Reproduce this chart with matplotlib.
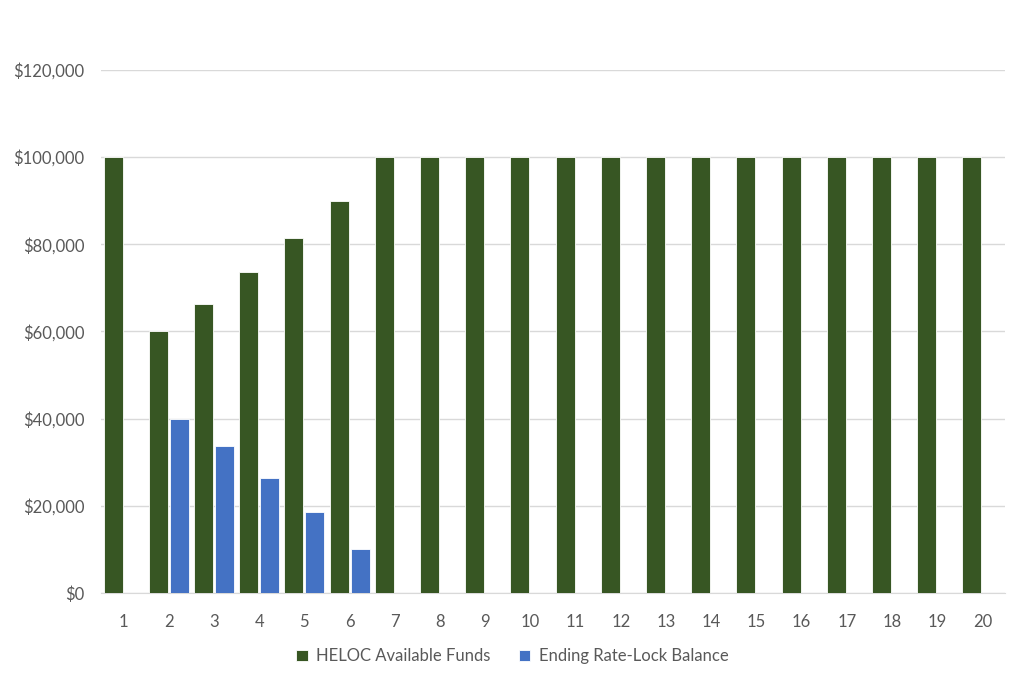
import matplotlib
matplotlib.use("Agg")
import matplotlib.pyplot as plt
import numpy as np

periods = list(range(1, 21))
heloc_funds = [100000, 60000, 66200, 73600, 81500, 90000] + [100000] * 14
rate_lock = [0, 40000, 33800, 26400, 18500, 10000] + [0] * 14
yticks = [0, 20000, 40000, 60000, 80000, 100000, 120000]

plt.rcParams['font.family'] = ['Lato', 'DejaVu Sans']

fig = plt.figure(figsize=(10.24, 6.82), dpi=100)
ax = fig.add_axes([0.0986, 0.1305, 0.8828, 0.7669])

x = np.array(periods)
w = 0.42
ax.bar(x - 0.232, heloc_funds, width=w, color='#375623', edgecolor='white',
       linewidth=0.6, label='HELOC Available Funds', zorder=3)
ax.bar(x + 0.232, rate_lock, width=w, color='#4472C4', edgecolor='white',
       linewidth=0.6, label='Ending Rate-Lock Balance', zorder=3)

ax.set_xlim(0.5, 20.5)
ax.set_ylim(0, 120000)
ax.set_xticks(x)
ax.set_xticklabels([str(p) for p in periods])
ax.set_yticks(yticks)
ax.set_yticklabels(['${:,}'.format(v) for v in yticks])
ax.tick_params(length=0, labelsize=12, colors='#595959')
ax.tick_params(axis='y', pad=12)
ax.tick_params(axis='x', pad=15)
ax.grid(axis='y', color='#d9d9d9', linewidth=1, zorder=0)
for s in ['top', 'right', 'left']:
    ax.spines[s].set_visible(False)
ax.spines['bottom'].set_color('#d9d9d9')

ax.legend(loc='upper center', bbox_to_anchor=(0.455, -0.077), ncol=2, frameon=False,
          fontsize=12, labelcolor='#595959', handlelength=0.7, handleheight=0.7,
          columnspacing=1.7, handletextpad=0.5)

fig.savefig('out.png', dpi=100)
